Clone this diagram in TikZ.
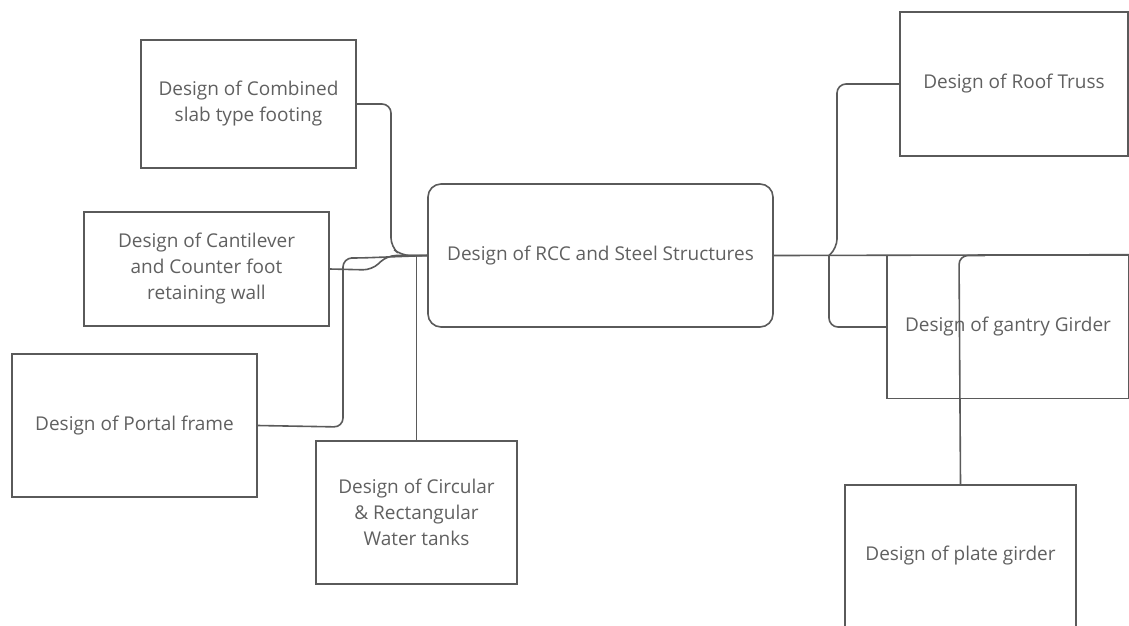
\documentclass[tikz,border=0pt]{standalone}
\usepackage{fontspec}
\setmainfont{Open Sans}
\definecolor{ln}{HTML}{5A5A5A}
\definecolor{tx}{HTML}{606060}
\begin{document}
\begin{tikzpicture}[x=1pt,y=-1pt,
  box/.style={draw=ln,line width=1.6pt,minimum width=#1,inner sep=0pt,align=center,text=tx,font=\fontsize{19}{26}\selectfont},
  conn/.style={draw=ln,line width=1.6pt,rounded corners=9pt}]
\useasboundingbox (0,0) rectangle (1129,625);
\clip (0,0) rectangle (1129,625);
\node[box=215pt,minimum height=128pt] (comb) at (248.5,104) {Design of Combined\\slab type footing};
\node[box=245pt,minimum height=114pt] (cant) at (206.5,269) {Design of Cantilever\\and Counter foot\\retaining wall};
\node[box=245pt,minimum height=143pt] (portal) at (134.5,425.5) {Design of Portal frame};
\node[box=201pt,minimum height=143pt] (tank) at (416.5,512.5) {Design of Circular\\\& Rectangular\\Water tanks};
\node[box=345pt,minimum height=143pt,rounded corners=13pt] (rcc) at (600.5,255.5) {Design of RCC and Steel Structures};
\node[box=228pt,minimum height=144pt] (roof) at (1014,84) {Design of Roof Truss};
\node[box=242pt,minimum height=143pt] (gantry) at (1008,327) {Design of gantry Girder};
\node[box=231pt,minimum height=142pt] (plate) at (960.5,556) {Design of plate girder};
% right side
\draw[conn] (rcc.east) -- (gantry.north east);
\draw[conn] (roof.west) -- (837,84) -- (837,248) -- (829,255.5);
\draw[conn] (829,255.5) -- (829,327) -- (gantry.west);
\draw[conn] (plate.north) -- (959,255.5) -- (985,255.5);
% left side
\draw[conn] (comb.east) -- (391,104) -- (391,247) -- (401,255.5) -- (rcc.west);
\draw[conn] (cant.east) -- (372,270) -- (387,255.5) -- (rcc.west);
\draw[conn] (portal.east) -- (343,427) -- (343,258) -- (360,258) -- (rcc.west);
\draw[conn] (tank.north) -- (tank.north |- rcc.west);
\end{tikzpicture}
\end{document}
